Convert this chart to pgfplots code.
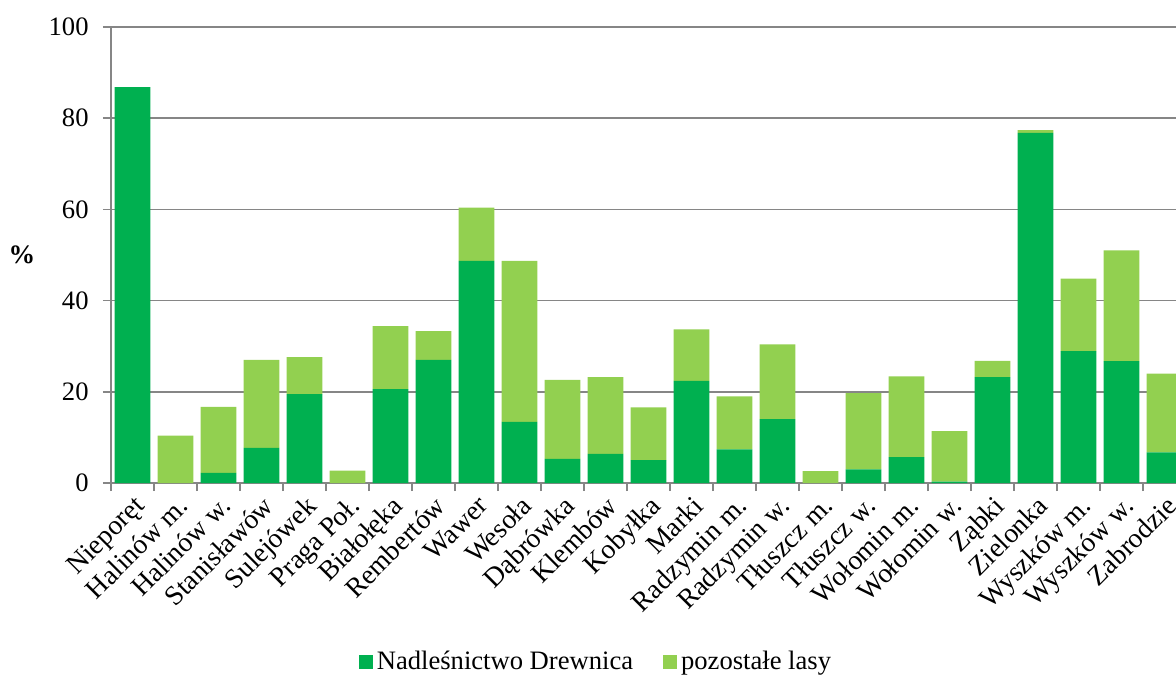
\documentclass[border=0pt]{standalone}
\usepackage{pgfplots}
\pgfplotsset{compat=1.18}
\usepackage{fontspec}
\setmainfont{Liberation Serif}
\definecolor{darkg}{HTML}{00B050}
\definecolor{lightg}{HTML}{92D050}
\definecolor{gridc}{HTML}{868686}
\begin{document}
\begin{tikzpicture}
\path[use as bounding box] (0,0) rectangle (588pt,337.5pt);
\begin{axis}[
  at={(55.5pt,96pt)}, anchor=south west,
  scale only axis, width=532.5pt, height=228pt,
  ybar stacked, bar width=17.8pt,
  xmin=-0.5, xmax=24.267, ymin=0, ymax=100,
  ytick={0,20,40,60,80,100},
  xtick={0,...,24},
  xticklabels={Nieporęt,Halinów m.,Halinów w.,Stanisławów,Sulejówek,Praga Poł.,Białołęka,Rembertów,Wawer,Wesoła,Dąbrówka,Klembów,Kobyłka,Marki,Radzymin m.,Radzymin w.,Tłuszcz m.,Tłuszcz w.,Wołomin m.,Wołomin w.,Ząbki,Zielonka,Wyszków m.,Wyszków w.,Zabrodzie},
  major x tick style={draw=none},
  extra x ticks={-0.5,0.5,...,23.5},
  extra x tick labels={},
  extra x tick style={major tick length=4pt, major x tick style={draw=gridc, line width=0.75pt}, grid=none},
  axis x line=bottom, axis y line=left,
  axis line style={-, draw=gridc, line width=0.75pt},
  tick align=outside, major tick length=4pt,
  tick style={draw=gridc, line width=0.75pt},
  ymajorgrids, grid style={draw=gridc, line width=0.75pt},
  tick label style={font=\fontsize{13.3}{15}\selectfont, text=black},
  /pgf/number format/assume math mode=true,
  xticklabel style={rotate=45, anchor=north east, inner sep=1pt, font=\fontsize{13.8}{15}\selectfont},
  yticklabel style={inner sep=1pt, xshift=-6pt},
  ylabel={\textbf{\%}},
  every axis y label/.style={at={(axis description cs:0,0.5)}, anchor=center, xshift=-44.5pt, font=\fontsize{13.3}{15}\selectfont},
  legend style={at={(rel axis cs:0.4563,-0.3925)}, anchor=center, draw=none, legend columns=2, font=\fontsize{13.3}{15}\selectfont, /tikz/every even column/.append style={column sep=13pt}},
  legend image code/.code={\fill[#1] (0pt,-3.5pt) rectangle (7pt,3.5pt);},
]
\addplot[fill=darkg, draw=none] coordinates {
(0,86.8) (1,0) (2,2.2) (3,7.7) (4,19.5) (5,0) (6,20.6) (7,27.0) (8,48.7) (9,13.4)
(10,5.3) (11,6.4) (12,5.0) (13,22.4) (14,7.4) (15,14.0) (16,0) (17,3.0) (18,5.7) (19,0.3)
(20,23.2) (21,76.8) (22,28.9) (23,26.7) (24,6.7)};
\addlegendentry{Nadleśnictwo Drewnica}
\addplot[fill=lightg, draw=none] coordinates {
(0,0) (1,10.4) (2,14.5) (3,19.3) (4,8.1) (5,2.7) (6,13.8) (7,6.3) (8,11.7) (9,35.3)
(10,17.3) (11,16.8) (12,11.6) (13,11.3) (14,11.6) (15,16.4) (16,2.6) (17,16.7) (18,17.7) (19,11.1)
(20,3.6) (21,0.6) (22,15.9) (23,24.3) (24,17.3)};
\addlegendentry{pozostałe lasy}
\end{axis}
\end{tikzpicture}
\end{document}
